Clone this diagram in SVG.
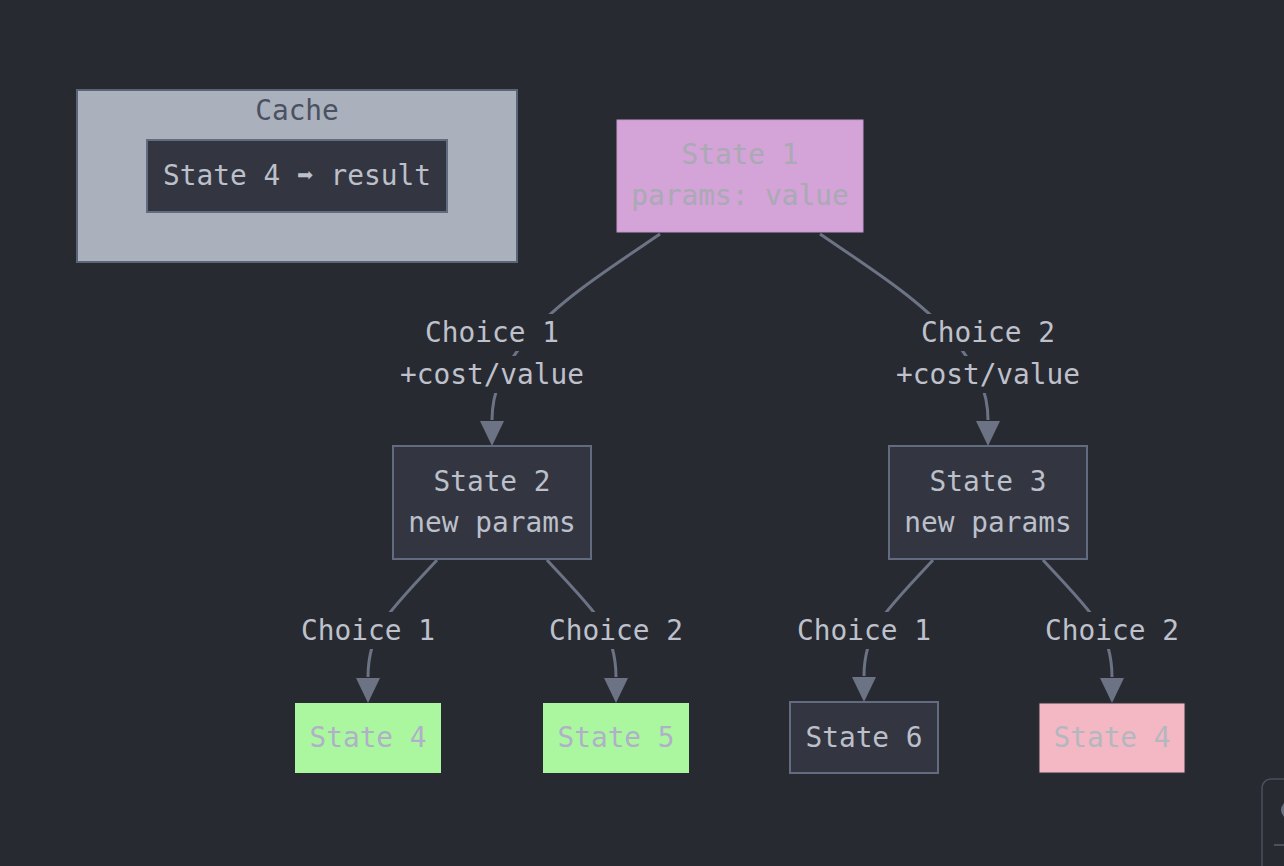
<svg xmlns="http://www.w3.org/2000/svg" width="1284" height="866" viewBox="0 0 1284 866">
<defs>
<style>
text{font-family:"DejaVu Sans Mono","Liberation Mono",monospace;font-size:27.8px;text-anchor:middle}
.edge{fill:none;stroke:#6b7385;stroke-width:3}
.dark{fill:#333640;stroke:#636b80;stroke-width:2}
.t{fill:#bcc0cb}
.lbl{fill:#bec1cb}
.lblbg{fill:#282a32}
</style>
</defs>
<rect width="1284" height="866" fill="#282a32"/>

<g id="cache">
<rect x="77" y="90" width="440" height="172" fill="#aab0bc" stroke="#5c6477" stroke-width="2"/>
<text x="297" y="120" fill="#4a5160">Cache</text>
<g id="cacheEntry">
<rect class="dark" x="147" y="140" width="300" height="72"/>
<text class="t" x="297" y="185">State 4 ➡ result</text>
</g>
</g>

<g id="connectors">
<path class="edge" d="M660,234 C610,268 560,300 530,335 C502,368 492,392 492,420"/>
<path class="edge" d="M820,234 C870,268 920,300 950,335 C978,368 988,392 988,420"/>
<path class="edge" d="M437,560 C415,584 395,604 383,622 C372,640 368,660 368,677"/>
<path class="edge" d="M547,560 C569,584 589,604 601,622 C612,640 616,660 616,677"/>
<path class="edge" d="M933,560 C911,584 891,604 879,622 C868,640 864,660 864,676"/>
<path class="edge" d="M1043,560 C1065,584 1085,604 1097,622 C1108,640 1112,660 1112,677"/>
<g fill="#6b7385">
<path d="M480,421 L504,421 L492,446 Z"/>
<path d="M976,421 L1000,421 L988,446 Z"/>
<path d="M356,678 L380,678 L368,703 Z"/>
<path d="M604,678 L628,678 L616,703 Z"/>
<path d="M852,677 L876,677 L864,702 Z"/>
<path d="M1100,678 L1124,678 L1112,703 Z"/>
</g>
<g id="labels">
<rect class="lblbg" x="424" y="314" width="136" height="37"/>
<rect class="lblbg" x="398" y="356" width="188" height="37"/>
<text class="lbl" x="492" y="342">Choice 1</text>
<text class="lbl" x="492" y="384">+cost/value</text>
<rect class="lblbg" x="920" y="314" width="136" height="37"/>
<rect class="lblbg" x="894" y="356" width="188" height="37"/>
<text class="lbl" x="988" y="342">Choice 2</text>
<text class="lbl" x="988" y="384">+cost/value</text>
<rect class="lblbg" x="300" y="612" width="136" height="37"/>
<text class="lbl" x="368" y="640">Choice 1</text>
<rect class="lblbg" x="548" y="612" width="136" height="37"/>
<text class="lbl" x="616" y="640">Choice 2</text>
<rect class="lblbg" x="796" y="612" width="136" height="37"/>
<text class="lbl" x="864" y="640">Choice 1</text>
<rect class="lblbg" x="1044" y="612" width="136" height="37"/>
<text class="lbl" x="1112" y="640">Choice 2</text>
</g>
</g>

<g id="state1">
<rect x="617" y="120" width="246" height="112" fill="#d4a3d8" stroke="#c596c9" stroke-width="1"/>
<text x="740" y="164" fill="#a9aab3">State 1</text>
<text x="740" y="205" fill="#a9aab3">params: value</text>
</g>
<g id="state2">
<rect class="dark" x="393" y="446" width="198" height="113"/>
<text class="t" x="492" y="491">State 2</text>
<text class="t" x="492" y="532">new params</text>
</g>
<g id="state3">
<rect class="dark" x="889" y="446" width="198" height="113"/>
<text class="t" x="988" y="491">State 3</text>
<text class="t" x="988" y="532">new params</text>
</g>
<g id="state4a">
<rect x="295" y="703" width="146" height="70" fill="#abf7a0"/>
<text x="368" y="747" fill="#b0b0c8">State 4</text>
</g>
<g id="state5">
<rect x="543" y="703" width="146" height="70" fill="#abf7a0"/>
<text x="616" y="747" fill="#b0b0c8">State 5</text>
</g>
<g id="state6">
<rect class="dark" x="790" y="702" width="148" height="71"/>
<text class="t" x="864" y="747">State 6</text>
</g>
<g id="state4b">
<rect x="1039" y="703" width="146" height="70" fill="#f4b8c4" stroke="#33343c" stroke-width="1"/>
<text x="1112" y="747" fill="#b3b7c0">State 4</text>
</g>
<g id="corner">
<rect x="1262" y="779" width="40" height="100" rx="9" fill="none" stroke="#4a4f5e" stroke-width="1.5"/>
<circle cx="1290" cy="810" r="9" fill="#6b7080"/>
<line x1="1274" y1="845" x2="1284" y2="845" stroke="#5a5f6e" stroke-width="1.5"/>
</g>
</svg>
